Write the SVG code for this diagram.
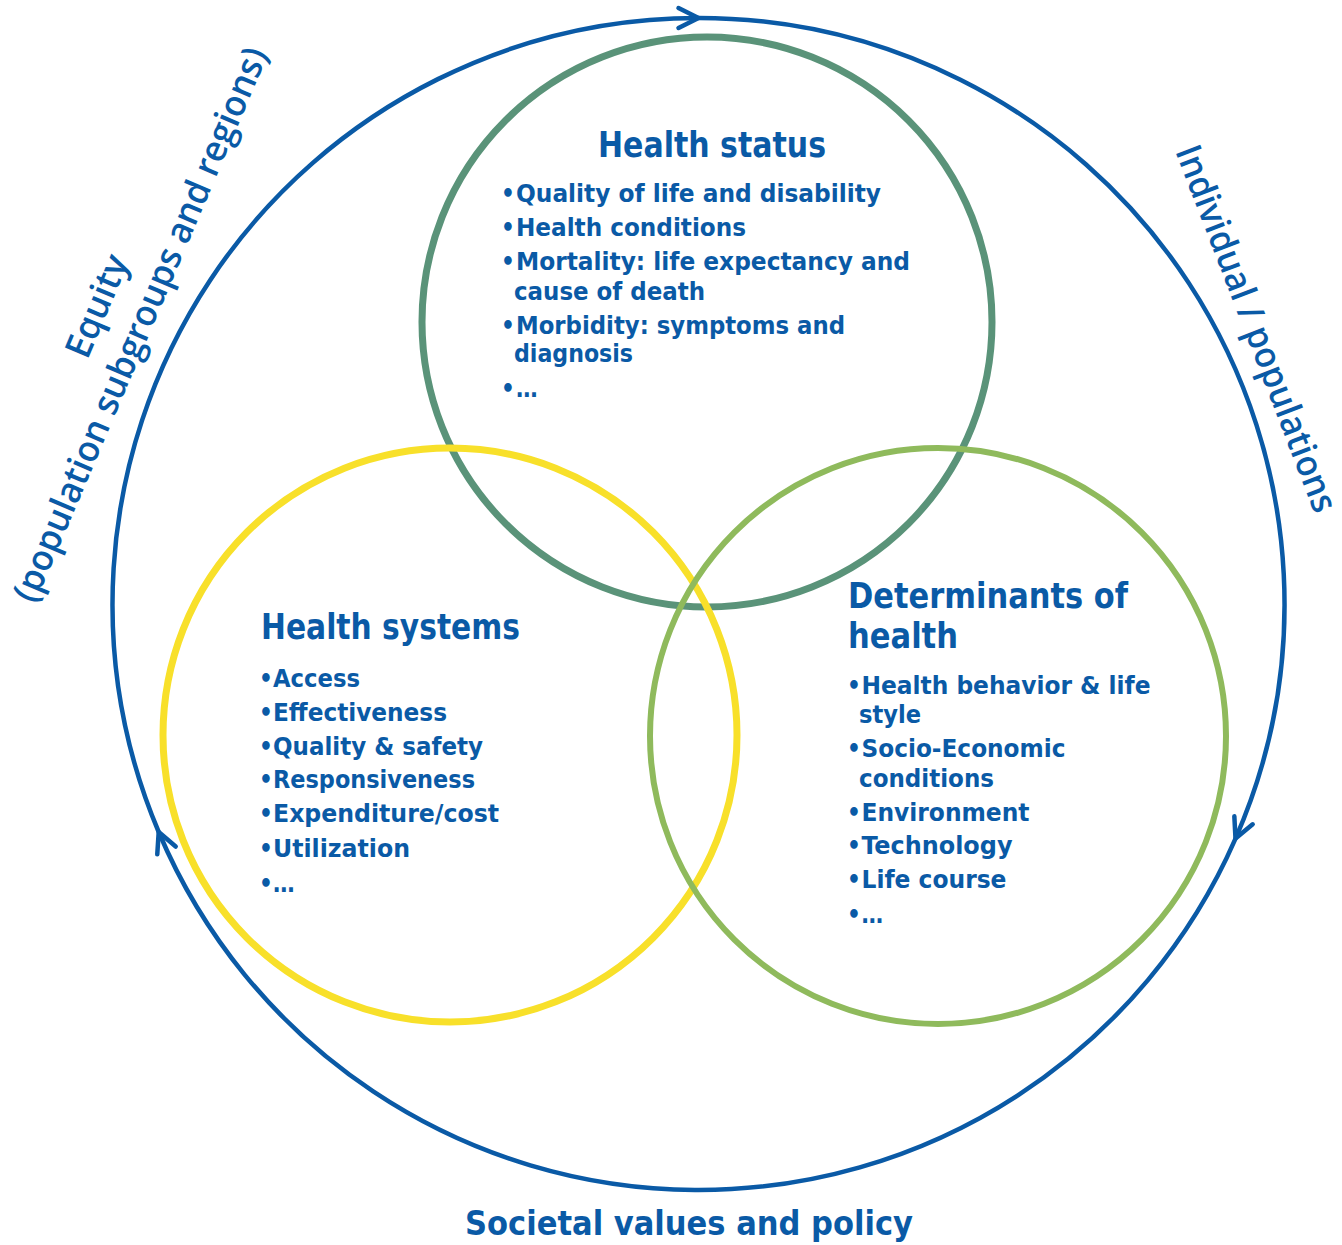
<svg xmlns="http://www.w3.org/2000/svg" width="1342" height="1245" viewBox="0 0 1342 1245">
<style>
.bg{fill:#ffffff}
.ring{fill:none}
.outer{fill:none;stroke:#0a5aa6;stroke-width:4.5}
.t{font-family:"DejaVu Sans Condensed","DejaVu Sans",sans-serif;font-stretch:condensed;font-weight:bold;fill:#0a5aa6}
.title{font-size:35px}
.item{font-size:24px}
.bul{font-size:24px;text-anchor:middle}
.side{font-family:"Open Sans","Noto Sans",sans-serif;font-size:36px;font-weight:600;fill:#0a5aa6;text-anchor:middle}
.soc{font-family:"DejaVu Sans Condensed","DejaVu Sans",sans-serif;font-stretch:condensed;font-weight:bold;font-size:33px;fill:#0a5aa6}
</style>
<defs>
<marker id="chev" markerUnits="userSpaceOnUse" markerWidth="40" markerHeight="40" viewBox="-30 -20 40 40" refX="0" refY="0" orient="auto" overflow="visible">
<path d="M-20,-10 L0,0 L-20,10" fill="none" stroke="#0a5aa6" stroke-width="4.5" stroke-linecap="round" stroke-linejoin="round"/>
</marker>
</defs>
<rect class="bg" x="0" y="0" width="1342" height="1245"/>

<g id="connectors">
<path class="outer" d="M158.7,832 A586,586 0 0 1 698.5,18" marker-end="url(#chev)"/>
<path class="outer" d="M698.5,18 A586,586 0 0 1 1235.5,838.6" marker-end="url(#chev)"/>
<path class="outer" d="M1235.5,838.6 A586,586 0 0 1 158.7,832" marker-end="url(#chev)"/>
</g>

<g id="health-status">
<circle class="ring" cx="707" cy="322" r="285" stroke="#5a9379" stroke-width="7"/>
<text class="t title" x="598" y="157" textLength="228" lengthAdjust="spacingAndGlyphs">Health status</text>
<text class="t bul" x="508" y="202">•</text>
<text class="t item" x="516" y="202" textLength="365" lengthAdjust="spacingAndGlyphs">Quality of life and disability</text>
<text class="t bul" x="508" y="236">•</text>
<text class="t item" x="516" y="236" textLength="230" lengthAdjust="spacingAndGlyphs">Health conditions</text>
<text class="t bul" x="508" y="269.5">•</text>
<text class="t item" x="516" y="269.5" textLength="394" lengthAdjust="spacingAndGlyphs">Mortality: life expectancy and</text>
<text class="t item" x="514" y="300" textLength="191" lengthAdjust="spacingAndGlyphs">cause of death</text>
<text class="t bul" x="508" y="333.5">•</text>
<text class="t item" x="516" y="333.5" textLength="329" lengthAdjust="spacingAndGlyphs">Morbidity: symptoms and</text>
<text class="t item" x="514" y="362" textLength="119" lengthAdjust="spacingAndGlyphs">diagnosis</text>
<text class="t bul" x="508" y="396.5">•</text>
<text class="t item" x="516" y="396.5">…</text>
</g>

<g id="health-systems">
<circle class="ring" cx="450" cy="735" r="287" stroke="#f8e02a" stroke-width="7"/>
<text class="t title" x="261" y="639.3" textLength="259" lengthAdjust="spacingAndGlyphs">Health systems</text>
<text class="t bul" x="266" y="687.3">•</text>
<text class="t item" x="273" y="687.3" textLength="87" lengthAdjust="spacingAndGlyphs">Access</text>
<text class="t bul" x="266" y="720.7">•</text>
<text class="t item" x="273" y="720.7" textLength="174" lengthAdjust="spacingAndGlyphs">Effectiveness</text>
<text class="t bul" x="266" y="754.5">•</text>
<text class="t item" x="273" y="754.5" textLength="210" lengthAdjust="spacingAndGlyphs">Quality &amp; safety</text>
<text class="t bul" x="266" y="788.3">•</text>
<text class="t item" x="273" y="788.3" textLength="202" lengthAdjust="spacingAndGlyphs">Responsiveness</text>
<text class="t bul" x="266" y="822">•</text>
<text class="t item" x="273" y="822" textLength="226" lengthAdjust="spacingAndGlyphs">Expenditure/cost</text>
<text class="t bul" x="266" y="856.5">•</text>
<text class="t item" x="273" y="856.5" textLength="137" lengthAdjust="spacingAndGlyphs">Utilization</text>
<text class="t bul" x="266" y="891.5">•</text>
<text class="t item" x="273" y="891.5">…</text>
</g>

<g id="determinants">
<circle class="ring" cx="938" cy="736" r="288" stroke="#8fba5c" stroke-width="6"/>
<text class="t title" x="848" y="608.3" textLength="280" lengthAdjust="spacingAndGlyphs">Determinants of</text>
<text class="t title" x="848" y="648.3" textLength="110" lengthAdjust="spacingAndGlyphs">health</text>
<text class="t bul" x="854" y="694">•</text>
<text class="t item" x="861.5" y="694" textLength="289" lengthAdjust="spacingAndGlyphs">Health behavior &amp; life</text>
<text class="t item" x="859" y="723.3" textLength="62" lengthAdjust="spacingAndGlyphs">style</text>
<text class="t bul" x="854" y="756.7">•</text>
<text class="t item" x="861.5" y="756.7" textLength="204" lengthAdjust="spacingAndGlyphs">Socio-Economic</text>
<text class="t item" x="859" y="786.7" textLength="135" lengthAdjust="spacingAndGlyphs">conditions</text>
<text class="t bul" x="854" y="820.7">•</text>
<text class="t item" x="861.5" y="820.7" textLength="168" lengthAdjust="spacingAndGlyphs">Environment</text>
<text class="t bul" x="854" y="854">•</text>
<text class="t item" x="861.5" y="854" textLength="151" lengthAdjust="spacingAndGlyphs">Technology</text>
<text class="t bul" x="854" y="888.3">•</text>
<text class="t item" x="861.5" y="888.3" textLength="145" lengthAdjust="spacingAndGlyphs">Life course</text>
<text class="t bul" x="854" y="923.3">•</text>
<text class="t item" x="861.5" y="923.3">…</text>
</g>

<g id="equity-label" transform="translate(151.5,329.2) rotate(-67)">
<text class="side" x="0" y="-47" textLength="108" lengthAdjust="spacingAndGlyphs">Equity</text>
<text class="side" x="0" y="0" textLength="598" lengthAdjust="spacingAndGlyphs">(population subgroups and regions)</text>
</g>

<g id="individual-label" transform="translate(1245,333) rotate(69)">
<text class="side" x="0" y="0" textLength="390" lengthAdjust="spacingAndGlyphs">Individual / populations</text>
</g>

<g id="societal-label">
<text class="soc" x="465" y="1235" textLength="448" lengthAdjust="spacingAndGlyphs">Societal values and policy</text>
</g>
</svg>
